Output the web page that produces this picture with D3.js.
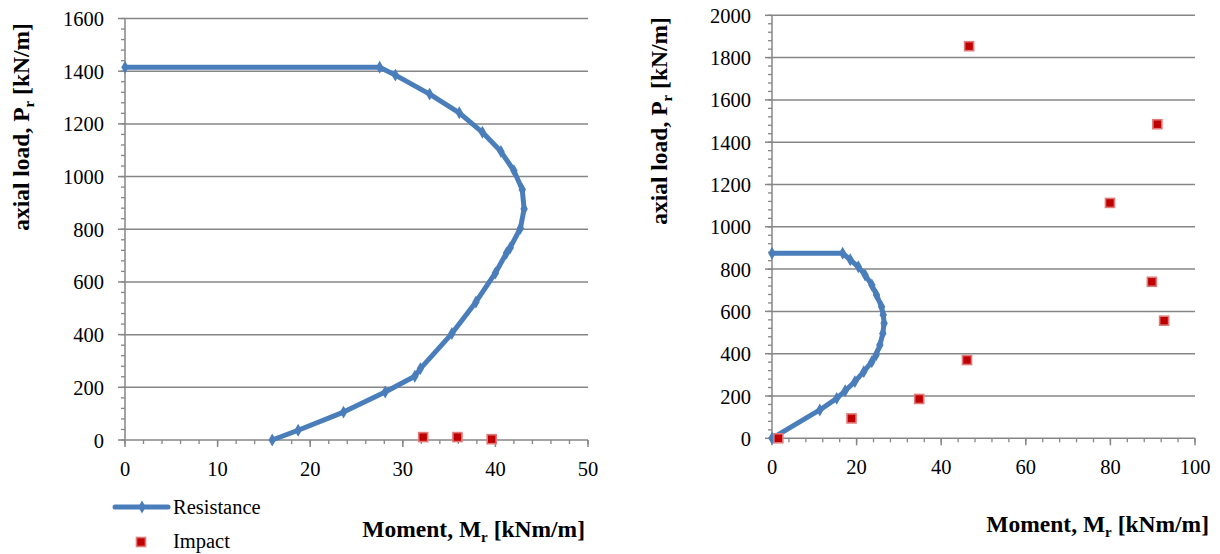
<!DOCTYPE html>
<html><head><meta charset="utf-8">
<script src="https://cdn.jsdelivr.net/npm/d3@7"></script>
<style>
html,body{margin:0;padding:0;background:#fff;}
svg text{font-family:"Liberation Serif","DejaVu Serif","Times New Roman",serif;fill:#000;}
</style></head>
<body>
<svg id="c" width="1220" height="554"></svg>
<script>
// ---- Data ----
// Left chart
const leftResistance = [
  [0,1415],[27.5,1415],[29.2,1385],[32.9,1313],[36.1,1242],[38.6,1168],[40.6,1095],
  [42.0,1022],[42.9,951],[43.1,877],[42.7,804],[41.6,730],[41.2,710],[40.0,634],
  [37.9,524],[35.3,404],[31.9,271],[31.3,242],[28.1,182],[23.6,106],[18.7,37],[15.9,0]
];
const leftImpact = [[32.2,11],[35.9,11],[39.6,3]];
const leftXTicks = [0,10,20,30,40,50];
const leftYTicks = [0,200,400,600,800,1000,1200,1400,1600];

// Right chart
const rightResistance = [
  [0,875],[16.7,875],[18.5,844],[20.4,811],[22.0,772],[23.6,725],[24.7,678],[25.9,622],
  [26.3,583],[26.5,544],[26.2,496],[25.5,441],[24.6,394],[23.6,362],[21.7,315],[19.6,268],
  [17.3,225],[15.3,189],[11.3,134],[0,0]
];
const rightImpact = [[46.6,1854],[91.1,1485],[79.9,1113],[89.8,740],[92.7,556],[46.1,370],[34.8,186],[18.8,94],[1.5,0]];
const rightXTicks = [0,20,40,60,80,100];
const rightYTicks = [0,200,400,600,800,1000,1200,1400,1600,1800,2000];

const BLUE = "#4a7ebb", RED = "#c00000", GRID = "#868686";
const FONT = "'Liberation Serif','DejaVu Serif','Times New Roman',serif";
const TICK_FS = "20.5px", LEG_FS = "20.5px", TITLE_FS = "23.5px";
const svg = d3.select("#c");

function drawChart(cfg){
  const g = svg.append("g");
  const x = d3.scaleLinear().domain(cfg.xDom).range(cfg.xRange);
  const y = d3.scaleLinear().domain(cfg.yDom).range(cfg.yRange);
  const x0 = cfg.xRange[0], x1 = cfg.xRange[1], y0 = cfg.yRange[0];

  g.selectAll("line.grid").data(cfg.yTicks.filter(d=>d>0)).enter().append("line")
    .attr("x1", x0).attr("x2", x1).attr("y1", d=>y(d)).attr("y2", d=>y(d))
    .attr("stroke", GRID).attr("stroke-width", 1.5);

  const yMinor = d3.range(cfg.yDom[0], cfg.yDom[1]+0.001, cfg.yMinor);
  g.selectAll("line.ymin").data(yMinor).enter().append("line")
    .attr("x1", x0-4).attr("x2", x0).attr("y1", d=>y(d)).attr("y2", d=>y(d))
    .attr("stroke", GRID).attr("stroke-width", 1.3);
  g.selectAll("line.ymaj").data(cfg.yTicks).enter().append("line")
    .attr("x1", x0-7).attr("x2", x0).attr("y1", d=>y(d)).attr("y2", d=>y(d))
    .attr("stroke", GRID).attr("stroke-width", 1.5);
  const xMinor = d3.range(cfg.xDom[0], cfg.xDom[1]+0.001, cfg.xMinor);
  g.selectAll("line.xmin").data(xMinor).enter().append("line")
    .attr("x1", d=>x(d)).attr("x2", d=>x(d)).attr("y1", y0).attr("y2", y0+4)
    .attr("stroke", GRID).attr("stroke-width", 1.3);
  g.selectAll("line.xmaj").data(cfg.xTicks).enter().append("line")
    .attr("x1", d=>x(d)).attr("x2", d=>x(d)).attr("y1", y0).attr("y2", y0+7)
    .attr("stroke", GRID).attr("stroke-width", 1.5);

  g.append("line").attr("x1", x0).attr("x2", x0).attr("y1", y0).attr("y2", cfg.yRange[1])
    .attr("stroke", GRID).attr("stroke-width", 1.5);
  g.append("line").attr("x1", x0).attr("x2", x1).attr("y1", y0).attr("y2", y0)
    .attr("stroke", GRID).attr("stroke-width", 1.5);

  g.selectAll("text.yl").data(cfg.yTicks).enter().append("text")
    .attr("x", x0-21).attr("y", d=>y(d)+7.5).attr("text-anchor","end")
    .style("font-family", FONT).style("font-size",TICK_FS).text(d=>d);
  g.selectAll("text.xl").data(cfg.xTicks).enter().append("text")
    .attr("x", d=>x(d)).attr("y", y0+36).attr("text-anchor","middle")
    .style("font-family", FONT).style("font-size",TICK_FS).text(d=>d);

  const line = d3.line().x(d=>x(d[0])).y(d=>y(d[1]));
  g.append("path").datum(cfg.res).attr("d", line).attr("fill","none")
    .attr("stroke", BLUE).attr("stroke-width", 5).attr("stroke-linejoin","round");
  g.selectAll("path.dm").data(cfg.res).enter().append("path")
    .attr("d", d3.symbol().type(d3.symbolDiamond).size(48)())
    .attr("transform", d=>`translate(${x(d[0])},${y(d[1])})`)
    .attr("fill", BLUE);

  g.selectAll("rect.imp").data(cfg.imp).enter().append("rect")
    .attr("x", d=>x(d[0])-4.5).attr("y", d=>y(d[1])-4.5).attr("width",9).attr("height",9)
    .attr("fill", RED).attr("stroke", "#e07a7a").attr("stroke-width", 1.6);

  const yt = g.append("text").attr("transform", `translate(${cfg.yTitle[0]},${cfg.yTitle[1]}) rotate(-90)`)
    .attr("text-anchor","middle").style("font-family", FONT).style("font-size",TITLE_FS).style("font-weight","bold");
  yt.append("tspan").text("axial load, P");
  yt.append("tspan").attr("dy", 5).style("font-size","15px").text("r");
  yt.append("tspan").attr("dy", -5).text(" [kN/m]");

  const xt = g.append("text").attr("x", cfg.xTitle[0]).attr("y", cfg.xTitle[1])
    .attr("text-anchor","end").style("font-family", FONT).style("font-size",TITLE_FS).style("font-weight","bold");
  xt.append("tspan").text("Moment, M");
  xt.append("tspan").attr("dy", 5).style("font-size","15px").text("r");
  xt.append("tspan").attr("dy", -5).text(" [kNm/m]");
}

drawChart({xDom:[0,50], xRange:[125,588], yDom:[0,1600], yRange:[440,18.5],
  xTicks:leftXTicks, yTicks:leftYTicks, xMinor:2, yMinor:40,
  res:leftResistance, imp:leftImpact, yTitle:[29,127], xTitle:[585,537]});
drawChart({xDom:[0,100], xRange:[772,1195], yDom:[0,2000], yRange:[438.3,15.3],
  xTicks:rightXTicks, yTicks:rightYTicks, xMinor:4, yMinor:40,
  res:rightResistance, imp:rightImpact, yTitle:[667,121], xTitle:[1209,532]});

const lg = svg.append("g");
lg.append("line").attr("x1",115).attr("x2",168).attr("y1",507).attr("y2",507)
  .attr("stroke",BLUE).attr("stroke-width",5).attr("stroke-linecap","round");
lg.append("path").attr("d", d3.symbol().type(d3.symbolDiamond).size(48)())
  .attr("transform","translate(142,507)").attr("fill",BLUE);
lg.append("text").attr("x",173).attr("y",514).style("font-family", FONT).style("font-size",LEG_FS).text("Resistance");
lg.append("rect").attr("x",136.5).attr("y",537.5).attr("width",9).attr("height",9)
  .attr("fill",RED).attr("stroke","#e07a7a").attr("stroke-width",1.6);
lg.append("text").attr("x",173).attr("y",548).style("font-family", FONT).style("font-size",LEG_FS).text("Impact");
</script>
</body></html>
